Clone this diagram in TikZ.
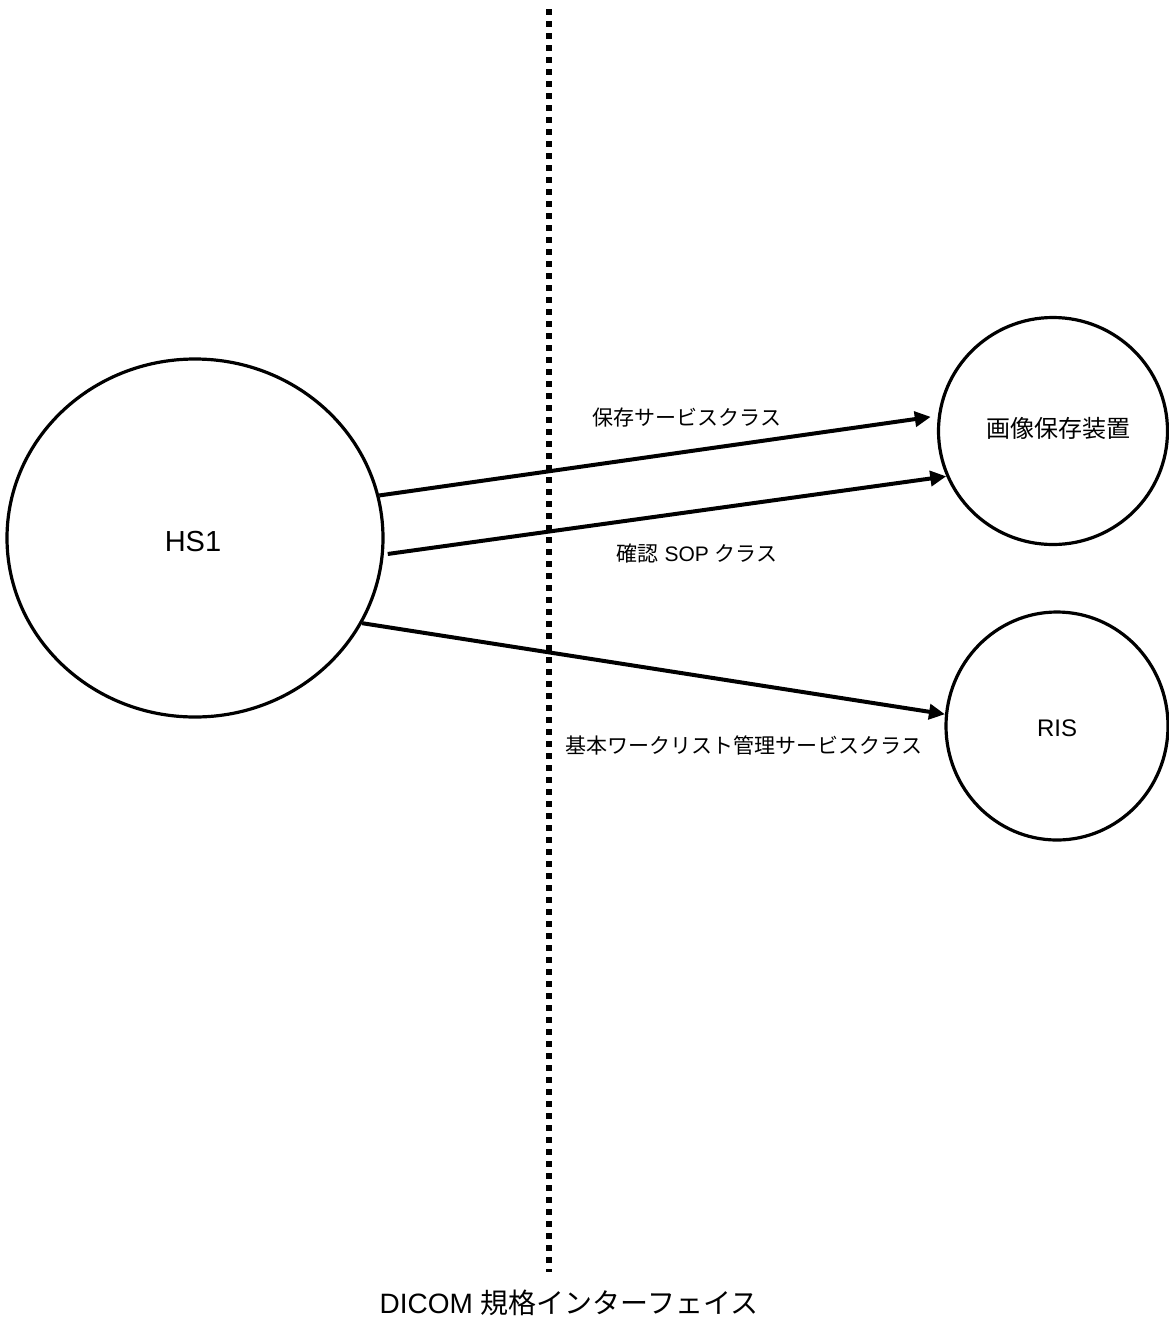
\documentclass[tikz,border=0pt]{standalone}
\usepackage{fontspec}
\setmainfont{Liberation Sans}
\newfontfamily\jp{Noto Sans CJK JP}
\usetikzlibrary{shapes.geometric,arrows.meta}
\tikzset{
  circ/.style={draw, ellipse, line width=3.2pt, inner sep=0pt},
  arr/.style={line width=4pt, -{Triangle[length=16pt,width=15pt]}},
  lbl/.style={font=\fontsize{21}{24}\selectfont, inner sep=0pt},
  dots/.style={line width=6pt, dash pattern=on 6pt off 6pt}
}
\begin{document}
\begin{tikzpicture}[x=1pt,y=-1pt]
\useasboundingbox (0,0) rectangle (1168,1318);
% circles
\node[circ, minimum width=376pt, minimum height=358pt] (hs1) at (195,538) {};
\node[font=\fontsize{29}{32}\selectfont] (hs1t) at (193,542) {HS1};
\node[circ, minimum width=229pt, minimum height=227pt] (pacs) at (1053,431) {};
\node[font=\fontsize{24}{28}\selectfont\jp] (pacst) at (1058,428) {画像保存装置};
\node[circ, minimum width=222pt, minimum height=228pt] (ris) at (1057,726) {};
\node[font=\fontsize{24}{28}\selectfont] (rist) at (1057,728) {RIS};
% dotted interface line
\coordinate (dtop) at (549,9);
\coordinate (dbot) at (549,1272);
\draw[dots] (dtop) -- (dbot);
\node[font=\fontsize{28}{32}\selectfont, anchor=center] (dicom) at (569,1303) {DICOM {\jp 規格インターフェイス}};
% arrows
\draw[arr] (hs1.13) -- ([xshift=-7pt]pacs.173);
\draw[arr, shorten <=4pt] (hs1.-5.6) -- (pacs.203);
\draw[arr] (hs1.-27) -- (ris.174.5);
% labels
\node[lbl] (l1) at (687,418) {\jp 保存サービスクラス};
\node[lbl] (l2) at (697,553) {{\jp 確認} SOP {\jp クラス}};
\node[lbl] (l3) at (744,745) {\jp 基本ワークリスト管理サービスクラス};
\end{tikzpicture}
\end{document}
